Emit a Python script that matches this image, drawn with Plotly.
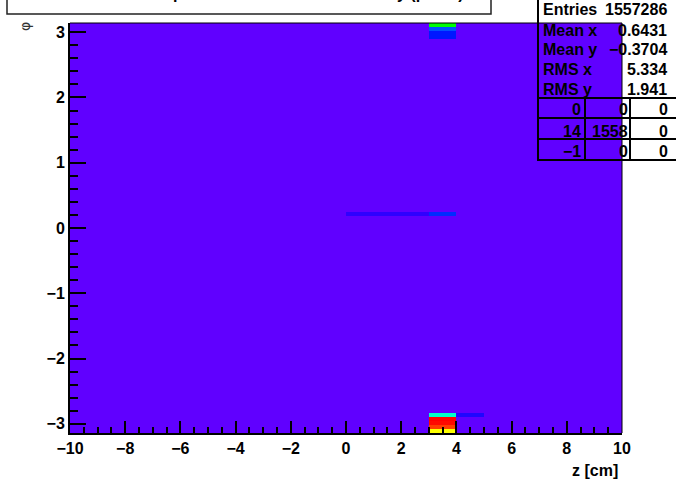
import numpy as np
import plotly.graph_objects as go

# ---------------- data ----------------
z_edges_lo, z_edges_hi, n_z = -10.0, 10.0, 20          # z [cm] binning
n_phi = 100                                             # phi binning over [-pi, pi]
# non-empty cells: lower z edge of bin, phi bin index, counts
cell_z = [3, 3, 3, 3, 3, 4, 3, 3, 3, 3, 0, 1, 2, 3]
cell_phi_bin = [0, 1, 2, 3, 4, 4, 99, 98, 97, 96, 53, 53, 53, 53]
cell_counts = [30000, 120000, 600000, 800000, 400, 5, 1500, 40, 14, 14, 3, 3, 3, 20]

stats_labels = ["Entries", "Mean x", "Mean y", "RMS x", "RMS y"]
stats_values = ["1557286", "0.6431", "\u22120.3704", "5.334", "1.941"]
overflow_table = [["0", "0", "0"], ["14", "1558", "0"], ["\u22121", "0", "0"]]

title_text = "Distribution of all positions in the detector hit by (pions)"
x_title = "z [cm]"
y_title = "\u03c6"

# ---------------- build histogram ----------------
x_edges = np.linspace(z_edges_lo, z_edges_hi, n_z + 1)
y_edges = np.linspace(-np.pi, np.pi, n_phi + 1)
H = np.zeros((n_phi, n_z))
for zl, pb, c in zip(cell_z, cell_phi_bin, cell_counts):
    xi = int(round(zl - z_edges_lo))
    H[pb, xi] += c
Z = np.log10(H + 1.0)
zmax = Z.max()

colorscale = [
    [0.00, "#6000ff"],
    [0.10, "#3000ff"],
    [0.19, "#0010ff"],
    [0.27, "#0050ff"],
    [0.44, "#00ffcc"],
    [0.54, "#00ff00"],
    [0.76, "#ffff00"],
    [0.86, "#ff3c00"],
    [1.00, "#ff0000"],
]

fig = go.Figure(go.Heatmap(
    x=x_edges, y=y_edges, z=Z, zmin=0, zmax=zmax,
    colorscale=colorscale, showscale=False, hoverinfo="skip", zsmooth=False,
))

# pixel geometry of the frame
L, R, T, B = 70, 622, 23, 433
W, Hh = 676, 483
def px(x):
    return (x - L) / (R - L)
def py(y):
    return (B - y) / (B - T)

FONT = "Liberation Sans, Arial, Helvetica, sans-serif"
tickfont = dict(family=FONT, size=16, color="black", weight="bold")

fig.update_layout(
    width=W, height=Hh,
    margin=dict(l=L, r=W - R, t=T, b=Hh - B, pad=0),
    paper_bgcolor="white", plot_bgcolor="white",
    showlegend=False,
)
fig.update_xaxes(
    range=[z_edges_lo, z_edges_hi], tickmode="linear", tick0=-10, dtick=2,
    ticks="inside", ticklen=12, tickwidth=2, tickcolor="black",
    minor=dict(ticks="inside", ticklen=6, tickwidth=2, dtick=0.5, tickcolor="black"),
    showline=True, linewidth=2, linecolor="black", mirror=False,
    showgrid=False, zeroline=False, tickfont=tickfont, layer="above traces",
)
fig.update_yaxes(
    range=[-np.pi, np.pi], tickmode="linear", tick0=0, dtick=1,
    ticks="inside", ticklen=16, tickwidth=2, tickcolor="black",
    minor=dict(ticks="inside", ticklen=8, tickwidth=2, dtick=0.2, tickcolor="black"),
    showline=True, linewidth=2, linecolor="black", mirror=False,
    showgrid=False, zeroline=False, tickfont=tickfont, layer="above traces",
)

shapes = []
ann = []
# thin frame on top/right
shapes.append(dict(type="line", xref="paper", yref="paper", x0=0, x1=1, y0=1, y1=1,
                   line=dict(color="black", width=1)))
shapes.append(dict(type="line", xref="paper", yref="paper", x0=1, x1=1, y0=0, y1=1,
                   line=dict(color="black", width=1)))

# title box (mostly outside the visible window)
shapes.append(dict(type="rect", xref="paper", yref="paper",
                   x0=px(7), x1=px(491), y0=py(14), y1=py(-10),
                   line=dict(color="#222", width=1.5), fillcolor="white"))
ann.append(dict(text=title_text, xref="paper", yref="paper", x=px(250), y=py(4),
                xanchor="center", yanchor="bottom", showarrow=False,
                font=dict(family=FONT, size=16, color="black", weight="bold")))

# stats box
sb_l, sb_r, sb_t, sb_b = 538, 676, -2, 160
shapes.append(dict(type="rect", xref="paper", yref="paper",
                   x0=px(sb_l), x1=px(sb_r + 2), y0=py(sb_b), y1=py(sb_t),
                   line=dict(color="black", width=2), fillcolor="rgba(0,0,0,0)"))
for yy in [98, 118, 139]:
    shapes.append(dict(type="line", xref="paper", yref="paper",
                       x0=px(sb_l), x1=px(sb_r + 2), y0=py(yy), y1=py(yy),
                       line=dict(color="black", width=2)))
for xx in [585, 630]:
    shapes.append(dict(type="line", xref="paper", yref="paper",
                       x0=px(xx), x1=px(xx), y0=py(98), y1=py(sb_b),
                       line=dict(color="black", width=2)))

sfont = dict(family=FONT, size=16, color="black", weight="bold")
row_y = [10, 30, 50, 69, 89]
for lab, val, yy in zip(stats_labels, stats_values, row_y):
    ann.append(dict(text=lab, xref="paper", yref="paper", x=px(541), y=py(yy),
                    xanchor="left", yanchor="middle", showarrow=False, font=sfont))
    ann.append(dict(text=val, xref="paper", yref="paper", x=px(669), y=py(yy),
                    xanchor="right", yanchor="middle", showarrow=False, font=sfont))
tab_y = [110, 131, 151]
col_x = [583, 630, 670]
for row, yy in zip(overflow_table, tab_y):
    for cell, xx in zip(row, col_x):
        ann.append(dict(text=cell, xref="paper", yref="paper", x=px(xx), y=py(yy),
                        xanchor="right", yanchor="middle", showarrow=False, font=sfont))

# axis titles
ann.append(dict(text=x_title, xref="paper", yref="paper", x=px(620), y=py(470),
                xanchor="right", yanchor="middle", showarrow=False,
                font=dict(family=FONT, size=16, color="black", weight="bold")))
ann.append(dict(text=y_title, xref="paper", yref="paper", x=px(25), y=py(27),
                xanchor="center", yanchor="middle", showarrow=False, textangle=-90,
                font=dict(family="DejaVu Sans", size=14, color="#333")))

fig.update_layout(shapes=shapes, annotations=ann)
fig.write_html(
    "out.html",
    config={"displayModeBar": False, "staticPlot": True},
    post_script="document.body.style.margin='0';document.body.style.padding='0';",
)
